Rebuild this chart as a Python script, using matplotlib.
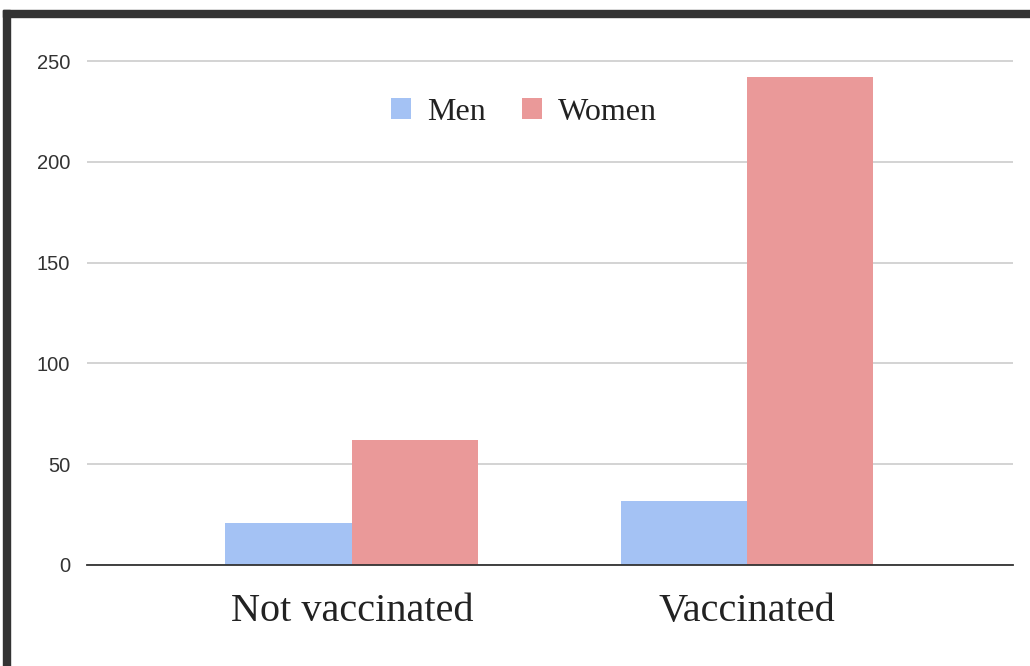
import numpy as np
import matplotlib.pyplot as plt
from matplotlib.patches import Rectangle

categories = ["Not vaccinated", "Vaccinated"]
men = [21, 32]
women = [62, 242]
series_names = ["Men", "Women"]
yticks = [0, 50, 100, 150, 200, 250]

blue = "#a4c2f4"
pink = "#ea9999"

fig = plt.figure(figsize=(10.3, 6.66), dpi=100)
ax = fig.add_axes([87 / 1030, 1 - 565 / 666, (1013 - 87) / 1030, 524 / 666])

x = np.arange(len(categories))
w = 0.32
ax.bar(x - w / 2, men, w, color=blue, label=series_names[0], zorder=3)
ax.bar(x + w / 2, women, w, color=pink, label=series_names[1], zorder=3)

ax.set_xlim(-0.67, 1.673)
ax.set_ylim(0, 260)
ax.set_yticks(yticks)
ax.set_yticklabels([str(v) for v in yticks], fontsize=14.5, color="#333333",
                   family="Liberation Sans")
ax.tick_params(axis="y", length=0, pad=12)
ax.set_xticks(x)
ax.set_xticklabels(categories, fontsize=29, family="Liberation Serif", color="#222222")
ax.tick_params(axis="x", length=0, pad=20)
ax.grid(axis="y", color="#cccccc", linewidth=1.2, zorder=0)
for s in ["top", "right", "left"]:
    ax.spines[s].set_visible(False)
ax.spines["bottom"].set_color("#333333")
ax.spines["bottom"].set_linewidth(1.3)
ax.spines["bottom"].set_zorder(4)

leg = ax.legend(loc="center", bbox_to_anchor=(524 / 1030, 1 - 112 / 666),
                bbox_transform=fig.transFigure, ncol=2, frameon=False,
                prop={"family": "Liberation Serif", "size": 23},
                handlelength=0.62, handleheight=0.62, handletextpad=0.5,
                columnspacing=1.15)
for t in leg.get_texts():
    t.set_color("#222222")

# dark frame along the top and left edge
fig.patches.append(Rectangle((3 / 1030, 1 - 17 / 666), 1, 7 / 666,
                             transform=fig.transFigure, color="#333333"))
fig.patches.append(Rectangle((3 / 1030, 0), 7 / 1030, 1 - 10 / 666,
                             transform=fig.transFigure, color="#333333"))

fig.savefig("out.png", dpi=100)
